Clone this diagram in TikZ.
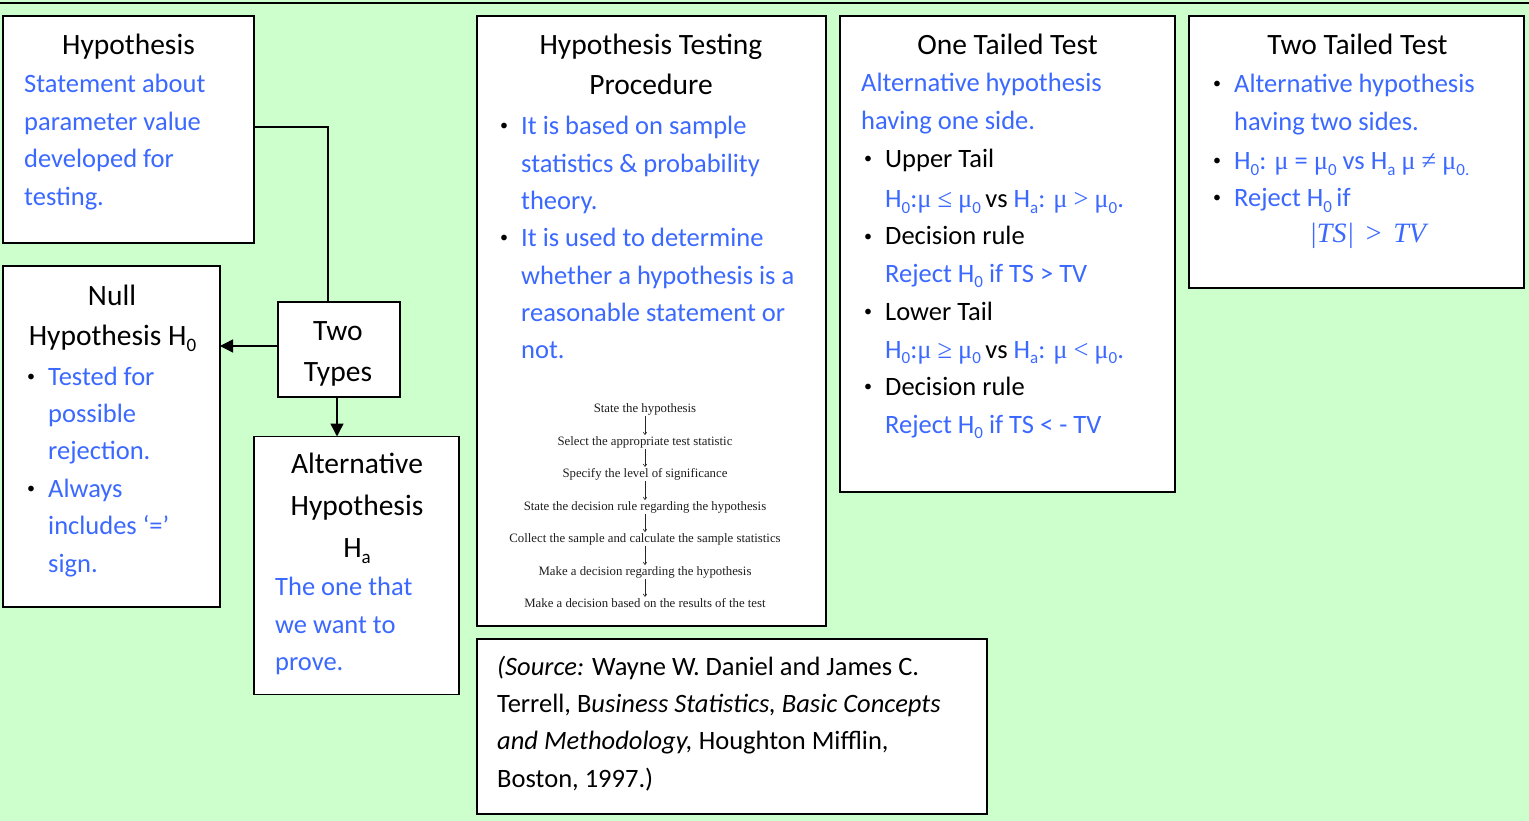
\documentclass[tikz,border=0pt]{standalone}
\usepackage{fontspec}
\setmainfont{Carlito}
\newfontfamily\flowfont{Liberation Serif}
\newfontfamily\symf{Liberation Serif}
\usetikzlibrary{arrows.meta}
\definecolor{bgg}{RGB}{204,255,204}
\definecolor{tblue}{RGB}{59,105,255}
\newcommand\fs{\fontsize{26.5}{32}\selectfont}
\newcommand\tfs{\fontsize{29.5}{34}\selectfont}
\newcommand\fls{\flowfont\fontsize{12.8}{14}\selectfont}
\newcommand\sbs[1]{\raisebox{-0.22em}{\fontsize{17}{17}\selectfont #1}}
\newcommand\tsbs[1]{\raisebox{-0.22em}{\fontsize{19}{19}\selectfont #1}}
\newcommand\mmu{{\symf μ}}
\newcommand\bu{\makebox[21pt][l]{\raisebox{4pt}{\color{black}\fontsize{16}{16}\selectfont •}}}
\begin{document}
\begin{tikzpicture}[x=1pt,y=-1pt,
  box/.style={draw=black,line width=1.8pt,fill=white,inner sep=0pt,outer sep=0pt,rectangle},
  tl/.style={anchor=base west,inner sep=0pt,font=\fs},
  tc/.style={anchor=base,inner sep=0pt,font=\tfs},
  bl/.style={tl,text=tblue},
  fl/.style={anchor=base,inner sep=1pt,font=\fls,text=black!88},
  farr/.style={-{To[length=3pt,width=4pt]},line width=0.6pt,black!85},
  conn/.style={line width=1.5pt},
  arr/.style={conn,-{Triangle[length=13pt,width=13pt]}}
]
\useasboundingbox (0,0) rectangle (1529,821);
\fill[bgg] (0,0) rectangle (1529,821);
\draw[line width=2.5pt] (0,3) -- (1529,3);

% boxes
\node[box,minimum width=251pt,minimum height=227pt] (hyp) at (128.5,129.5) {};
\node[box,minimum width=217pt,minimum height=341pt] (null) at (111.5,436.5) {};
\node[box,minimum width=122pt,minimum height=95pt] (two) at (339,349.5) {};
\node[box,minimum width=205pt,minimum height=258pt] (alt) at (356.5,565.5) {};
\node[box,minimum width=349pt,minimum height=610pt] (htp) at (651.5,321) {};
\node[box,minimum width=510pt,minimum height=175pt] (src) at (732,726.5) {};
\node[box,minimum width=335pt,minimum height=476pt] (one) at (1007.5,254) {};
\node[box,minimum width=335pt,minimum height=272pt] (twot) at (1356.5,152) {};

% connectors
\draw[conn] ([yshift=2.5pt]hyp.east) -| ([xshift=-11pt]two.north);
\coordinate (a1) at ([yshift=3.5pt]two.west);
\draw[arr] (a1) -- (a1 -| null.east);
\coordinate (a2) at ([xshift=-2pt]two.south);
\draw[arr] (a2) -- (a2 |- alt.north);

% Hypothesis box
\node[tc] (hypT) at (128.5,55) {Hypothesis};
\node[bl] (hyp1) at (24,93) {Statement about};
\node[bl] (hyp2) at (24,130.5) {parameter value};
\node[bl] (hyp3) at (24,168) {developed for};
\node[bl] (hyp4) at (24,205.5) {testing.};

% Null box
\node[tc] (nullT1) at (112,305) {Null};
\node[tc] (nullT2) at (112.5,345) {Hypothesis H\tsbs{0}};
\node[bl] (null1) at (27,385) {\bu Tested for};
\node[bl] (null2) at (48,422.4) {possible};
\node[bl] (null3) at (48,459.8) {rejection.};
\node[bl] (null4) at (27,497.2) {\bu Always};
\node[bl] (null5) at (48,534.6) {includes ‘=’};
\node[bl] (null6) at (48,572) {sign.};

% Two types
\node[tc] (twoT1) at (338,340) {Two};
\node[tc] (twoT2) at (338,381) {Types};

% Alternative
\node[tc] (altT1) at (357,473) {Alternative};
\node[tc] (altT2) at (357,515) {Hypothesis};
\node[tc] (altT3) at (357,557) {H\tsbs{a}};
\node[bl] (alt1) at (275,595) {The one that};
\node[bl] (alt2) at (275,633) {we want to};
\node[bl] (alt3) at (275,670) {prove.};

% Hypothesis testing procedure
\node[tc] (htpT1) at (651,55) {Hypothesis Testing};
\node[tc] (htpT2) at (651,95) {Procedure};
\node[bl] (htp1) at (500,135) {\bu It is based on sample};
\node[bl] (htp2) at (521,172.3) {statistics \& probability};
\node[bl] (htp3) at (521,209.6) {theory.};
\node[bl] (htp4) at (500,246.9) {\bu It is used to determine};
\node[bl] (htp5) at (521,284.2) {whether a hypothesis is a};
\node[bl] (htp6) at (521,321.5) {reasonable statement or};
\node[bl] (htp7) at (521,358.8) {not.};

% flowchart
\node[fl] (f1) at (645,412) {State the hypothesis};
\node[fl] (f2) at (645,445) {Select the appropriate test statistic};
\node[fl] (f3) at (645,477) {Specify the level of significance};
\node[fl] (f4) at (645,510) {State the decision rule regarding the hypothesis};
\node[fl] (f5) at (645,542) {Collect the sample and calculate the sample statistics};
\node[fl] (f6) at (645,575) {Make a decision regarding the hypothesis};
\node[fl] (f7) at (645,607) {Make a decision based on the results of the test};
\draw[farr] (f1) -- (f2);
\draw[farr] (f2) -- (f3);
\draw[farr] (f3) -- (f4);
\draw[farr] (f4) -- (f5);
\draw[farr] (f5) -- (f6);
\draw[farr] (f6) -- (f7);

% One tailed
\node[tc] (oneT) at (1007.5,55) {One Tailed Test};
\node[bl] (one1) at (861,92) {Alternative hypothesis};
\node[bl] (one2) at (861,130) {having one side.};
\node[tl] (one3) at (864,168) {\bu Upper Tail};
\node[bl] (one4) at (885,208) {H\sbs{0}:\mmu\ {\symf ≤} \mmu\sbs{0}\,{\color{black}vs} H\sbs{a}: \mmu\ {\symf >} \mmu\sbs{0}.};
\node[tl] (one5) at (864,245) {\bu Decision rule};
\node[bl] (one6) at (885,282) {Reject H\sbs{0} if TS > TV};
\node[tl] (one7) at (864,320) {\bu Lower Tail};
\node[bl] (one8) at (885,358) {H\sbs{0}:\mmu\ {\symf ≥} \mmu\sbs{0}\,{\color{black}vs} H\sbs{a}: \mmu\ {\symf <} \mmu\sbs{0}.};
\node[tl] (one9) at (864,395) {\bu Decision rule};
\node[bl] (one10) at (885,433) {Reject H\sbs{0} if TS < - TV};

% Two tailed
\node[tc] (twotT) at (1357.5,55) {Two Tailed Test};
\node[bl] (twot1) at (1213,93) {\bu Alternative hypothesis};
\node[bl] (twot2) at (1234,131) {having two sides.};
\node[bl] (twot3) at (1213,170) {\bu H\sbs{0}: \mmu\ = \mmu\sbs{0} vs H\sbs{a} \mmu\ {\symf ≠} \mmu\sbs{0.}};
\node[bl] (twot4) at (1213,207) {\bu Reject H\sbs{0}\,if};
\node[anchor=base,inner sep=0pt,text=tblue,font={\symf\fontsize{28}{32}\selectfont}] (twot5) at (1369,243) {\textit{|TS|}\ \,>\ \,\textit{TV}};

% Source
\node[tl] (src1) at (497,675) {\textit{(Source:} Wayne W. Daniel and James C.};
\node[tl] (src2) at (497,712) {Terrell, B\textit{usiness Statistics, Basic Concepts}};
\node[tl] (src3) at (497,749.5) {\textit{and Methodology,} Houghton Mifflin,};
\node[tl] (src4) at (497,787) {Boston, 1997.)};
\end{tikzpicture}
\end{document}
